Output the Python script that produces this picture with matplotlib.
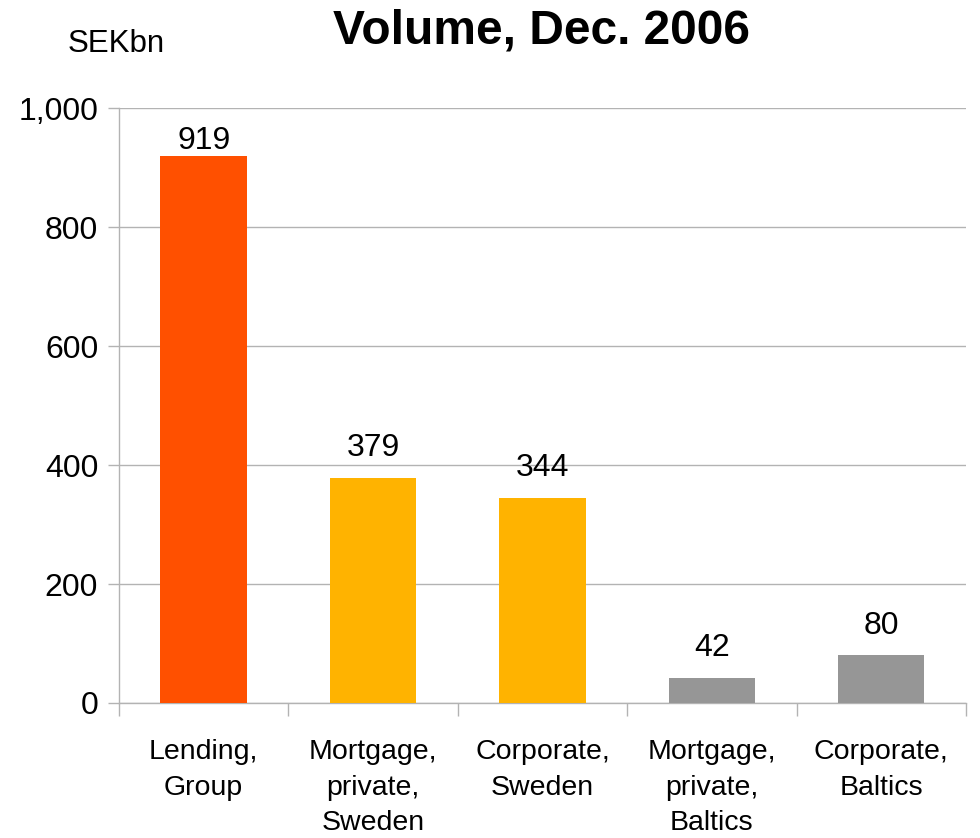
import matplotlib.pyplot as plt
from matplotlib.ticker import FixedLocator, FuncFormatter

plt.rcParams["font.family"] = ["Liberation Sans", "DejaVu Sans"]

categories = ["Lending,\nGroup", "Mortgage,\nprivate,\nSweden", "Corporate,\nSweden",
              "Mortgage,\nprivate,\nBaltics", "Corporate,\nBaltics"]
volumes = [919, 379, 344, 42, 80]
bar_colors = ["#FF5000", "#FFB300", "#FFB300", "#969696", "#969696"]

GRID = "#b3b3b3"

fig = plt.figure(figsize=(9.8, 8.38), dpi=100)
ax = fig.add_axes([0.1214, 0.1611, 0.8643, 0.71])

x = list(range(len(categories)))
ax.bar(x, volumes, width=0.51, color=bar_colors, zorder=3)

# value labels above each bar, pushed down if they would leave the plot area
for xi, v in zip(x, volumes):
    ax.text(xi, min(v + 25, 1000 - 80), f"{v}",
            ha="center", va="bottom", fontsize=23, zorder=4)

ax.set_xlim(-0.5, len(categories) - 0.5)
ax.set_ylim(0, 1000)
ax.set_yticks(range(0, 1001, 200))
ax.yaxis.set_major_formatter(FuncFormatter(lambda v, _: f"{int(v):,}"))
ax.yaxis.grid(True, color=GRID, linewidth=1, zorder=0)
ax.tick_params(axis="y", length=8, width=1, color=GRID, pad=7, labelsize=23)

ax.set_xticks(x)
ax.set_xticklabels(categories, fontsize=20.5, linespacing=1.48, va="top")
ax.tick_params(axis="x", which="major", length=0, pad=26)
ax.xaxis.set_minor_locator(FixedLocator([i - 0.5 for i in range(len(categories) + 1)]))
ax.tick_params(axis="x", which="minor", length=9, width=1, color=GRID)

for side in ["top", "right"]:
    ax.spines[side].set_visible(False)
for side in ["left", "bottom"]:
    ax.spines[side].set_color(GRID)
    ax.spines[side].set_linewidth(1)

fig.text(0.553, 0.963, "Volume, Dec. 2006", ha="center", va="center",
         fontsize=34.5, fontweight="bold")
fig.text(0.069, 0.948, "SEKbn", ha="left", va="center", fontsize=22.5)

fig.savefig("out.png", dpi=100)
